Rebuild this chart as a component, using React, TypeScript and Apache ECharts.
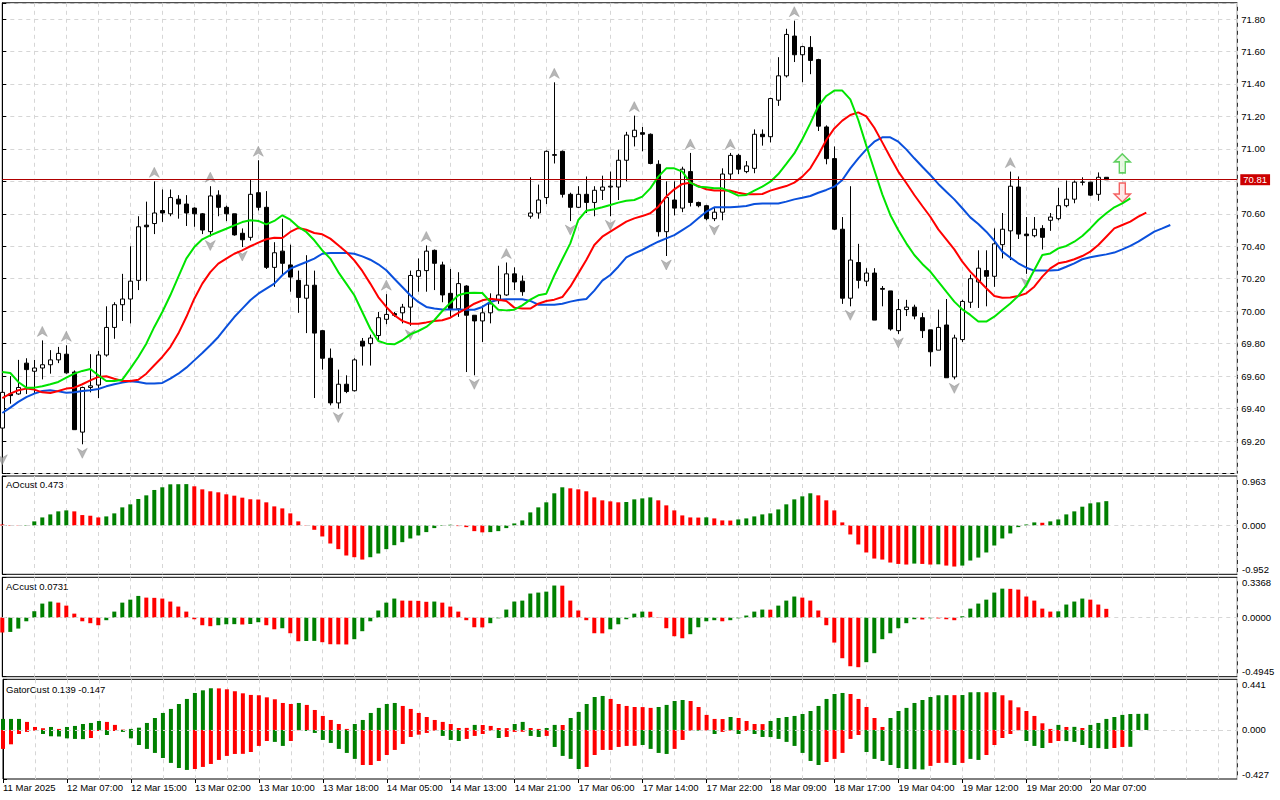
import React, { useEffect, useRef } from "react";
import * as echarts from "echarts";

// ---------- x axis tick labels (every 8 bars, starting at bar 0) ----------
const tickLabels = [
  "11 Mar 2025", "12 Mar 07:00", "12 Mar 15:00", "13 Mar 02:00", "13 Mar 10:00",
  "13 Mar 18:00", "14 Mar 05:00", "14 Mar 13:00", "14 Mar 21:00", "17 Mar 06:00",
  "17 Mar 14:00", "17 Mar 22:00", "18 Mar 09:00", "18 Mar 17:00", "19 Mar 04:00",
  "19 Mar 12:00", "19 Mar 20:00", "20 Mar 07:00",
];

// ---------- candles ----------
const opens = [
  69.28, 69.49, 69.49, 69.68, 69.63, 69.65, 69.67, 69.70, 69.735, 69.625,
  69.255, 69.53, 69.545, 69.73, 69.90, 70.04, 70.075, 70.19, 70.53, 70.54,
  70.62, 70.60, 70.69, 70.66, 70.635, 70.60, 70.49, 70.715, 70.64, 70.60,
  70.48, 70.455, 70.73, 70.64, 70.27, 70.37, 70.285, 70.19, 70.08, 70.16,
  69.88, 69.71, 69.435, 69.55, 69.51, 69.815, 69.80, 69.85, 69.95, 69.985,
  69.99, 70.025, 70.215, 70.25, 70.375, 70.285, 70.11, 70.015, 70.155, 69.975,
  69.94, 69.99, 70.065, 70.10, 70.23, 70.185, 70.585, 70.605, 70.70, 70.96,
  70.985, 70.72, 70.64, 70.72, 70.67, 70.745, 70.765, 70.765, 70.93, 71.075,
  71.10, 71.09, 70.905, 70.49, 70.685, 70.635, 70.86, 70.67, 70.65, 70.57,
  70.61, 70.845, 70.96, 70.86, 70.88, 71.09, 71.075, 71.30, 71.45, 71.695,
  71.58, 71.625, 71.55, 71.135, 70.94, 70.505, 70.08, 70.30, 70.185, 70.235,
  70.14, 70.125, 69.88, 70.01, 70.025, 69.96, 69.885, 69.76, 69.915, 69.595,
  69.825, 70.055, 70.18, 70.25, 70.215, 70.41, 70.495, 70.765, 70.475, 70.465,
  70.51, 70.56, 70.57, 70.65, 70.69, 70.794, 70.795, 70.72, 70.825,
];
const highs = [
  69.50, 69.60, 69.70, 69.71, 69.70, 69.82, 69.76, 69.78, 69.79, 69.635,
  69.535, 69.735, 69.755, 70.03, 70.055, 70.23, 70.40, 70.585, 70.675, 70.80,
  70.75, 70.75, 70.715, 70.715, 70.64, 70.605, 70.77, 70.745, 70.65, 70.60,
  70.51, 70.81, 70.93, 70.74, 70.425, 70.57, 70.41, 70.25, 70.345, 70.25,
  69.885, 69.77, 69.64, 69.605, 69.71, 69.835, 69.855, 69.995, 70.105, 69.995,
  70.045, 70.25, 70.325, 70.405, 70.38, 70.305, 70.26, 70.24, 70.16, 69.975,
  70.035, 70.11, 70.28, 70.30, 70.27, 70.22, 70.825, 70.78, 70.99, 71.41,
  70.99, 70.73, 70.77, 70.83, 70.77, 70.835, 70.86, 70.995, 71.105, 71.205,
  71.135, 71.095, 70.93, 70.80, 70.80, 70.89, 70.975, 70.675, 70.655, 70.635,
  70.88, 70.975, 70.97, 70.925, 71.12, 71.12, 71.315, 71.565, 71.74, 71.79,
  71.635, 71.695, 71.555, 71.145, 71.015, 70.58, 70.77, 70.415, 70.265, 70.265,
  70.155, 70.125, 70.075, 70.07, 70.04, 69.99, 69.885, 70.01, 70.075, 69.855,
  70.07, 70.225, 70.375, 70.375, 70.51, 70.605, 70.86, 70.83, 70.58, 70.58,
  70.53, 70.605, 70.76, 70.805, 70.805, 70.825, 70.797, 70.855, 70.825,
];
const lows = [
  69.14, 69.43, 69.485, 69.49, 69.49, 69.58, 69.615, 69.68, 69.615, 69.27,
  69.18, 69.50, 69.465, 69.72, 69.83, 69.94, 69.925, 70.13, 70.185, 70.475,
  70.55, 70.585, 70.57, 70.525, 70.52, 70.475, 70.46, 70.585, 70.555, 70.465,
  70.395, 70.435, 70.62, 70.26, 70.15, 70.225, 70.12, 69.99, 69.865, 69.465,
  69.64, 69.42, 69.40, 69.495, 69.505, 69.665, 69.665, 69.82, 69.92, 69.965,
  69.925, 69.91, 70.12, 70.12, 70.13, 70.055, 69.965, 69.965, 69.625, 69.605,
  69.81, 69.925, 70.045, 70.095, 70.13, 70.095, 70.57, 70.57, 70.66, 70.91,
  70.70, 70.555, 70.635, 70.605, 70.585, 70.685, 70.585, 70.685, 70.80, 71.015,
  70.985, 70.905, 70.46, 70.34, 70.59, 70.61, 70.645, 70.64, 70.56, 70.555,
  70.56, 70.81, 70.845, 70.85, 70.85, 71.02, 71.04, 71.265, 71.44, 71.535,
  71.41, 71.46, 71.11, 70.905, 70.50, 70.045, 70.03, 70.14, 70.155, 69.945,
  70.03, 69.88, 69.86, 69.97, 69.95, 69.835, 69.66, 69.76, 69.59, 69.58,
  69.81, 70.02, 70.02, 70.03, 70.15, 70.325, 70.315, 70.445, 70.23, 70.455,
  70.38, 70.495, 70.56, 70.64, 70.665, 70.775, 70.71, 70.68, 70.81,
];
const closes = [
  69.50, 69.48, 69.53, 69.64, 69.65, 69.67, 69.70, 69.74, 69.62, 69.27,
  69.53, 69.54, 69.73, 69.90, 70.04, 70.075, 70.185, 70.52, 70.52, 70.605,
  70.605, 70.70, 70.66, 70.605, 70.60, 70.50, 70.71, 70.64, 70.60, 70.47,
  70.44, 70.72, 70.64, 70.27, 70.36, 70.295, 70.21, 70.085, 70.16, 69.865,
  69.71, 69.435, 69.55, 69.505, 69.70, 69.785, 69.835, 69.96, 69.98, 69.975,
  70.025, 70.22, 70.25, 70.37, 70.295, 70.10, 70.015, 70.17, 69.975, 69.94,
  69.99, 70.045, 70.10, 70.23, 70.18, 70.12, 70.605, 70.685, 70.985, 70.965,
  70.72, 70.64, 70.72, 70.67, 70.745, 70.765, 70.77, 70.93, 71.085, 71.115,
  71.09, 70.91, 70.49, 70.70, 70.635, 70.875, 70.67, 70.65, 70.57, 70.61,
  70.845, 70.96, 70.875, 70.895, 71.09, 71.075, 71.31, 71.45, 71.705, 71.58,
  71.63, 71.545, 71.14, 70.94, 70.505, 70.08, 70.315, 70.19, 70.235, 69.945,
  70.135, 69.89, 70.01, 70.025, 69.97, 69.88, 69.75, 69.90, 69.59, 69.835,
  70.06, 70.20, 70.265, 70.215, 70.415, 70.505, 70.77, 70.475, 70.465, 70.505,
  70.455, 70.58, 70.65, 70.69, 70.795, 70.796, 70.715, 70.825, 70.81,
];
const lastPrice = 70.81;

// ---------- Alligator lines (read per bar, shifted forward) ----------
const jaw = [
  69.373, 69.406, 69.441, 69.471, 69.492, 69.508, 69.513, 69.506, 69.498, 69.500,
  69.508, 69.513, 69.521, 69.537, 69.550, 69.560, 69.568, 69.564, 69.554, 69.554,
  69.558, 69.584, 69.615, 69.652, 69.697, 69.743, 69.790, 69.841, 69.903, 69.964,
  70.016, 70.067, 70.108, 70.139, 70.170, 70.221, 70.262, 70.283, 70.303, 70.324,
  70.354, 70.359, 70.359, 70.359, 70.354, 70.338, 70.317, 70.289, 70.252, 70.200,
  70.149, 70.098, 70.057, 70.026, 70.016, 70.011, 70.011, 70.011, 70.009, 70.009,
  70.026, 70.057, 70.071, 70.073, 70.073, 70.073, 70.063, 70.040, 70.040, 70.040,
  70.046, 70.059, 70.069, 70.075, 70.127, 70.188, 70.223, 70.274, 70.332, 70.356,
  70.377, 70.404, 70.428, 70.449, 70.469, 70.500, 70.531, 70.572, 70.613, 70.640,
  70.640, 70.640, 70.644, 70.648, 70.660, 70.664, 70.664, 70.664, 70.675, 70.689,
  70.699, 70.710, 70.730, 70.747, 70.767, 70.808, 70.880, 70.942, 70.997, 71.044,
  71.071, 71.071, 71.044, 70.997, 70.942, 70.890, 70.839, 70.784, 70.736, 70.689,
  70.634, 70.578, 70.537, 70.490, 70.434, 70.367, 70.330, 70.295, 70.268, 70.250,
  70.250, 70.250, 70.254, 70.274, 70.295, 70.320, 70.332, 70.342, 70.350, 70.361,
  70.381, 70.402, 70.428, 70.459, 70.490, 70.510, 70.531,
];
const teeth = [
  69.465, 69.492, 69.513, 69.523, 69.517, 69.500, 69.496, 69.508, 69.523, 69.529,
  69.550, 69.574, 69.595, 69.599, 69.584, 69.570, 69.570, 69.578, 69.615, 69.667,
  69.718, 69.779, 69.862, 69.964, 70.077, 70.170, 70.241, 70.293, 70.324, 70.354,
  70.375, 70.400, 70.422, 70.443, 70.453, 70.451, 70.488, 70.513, 70.502, 70.482,
  70.474, 70.447, 70.406, 70.365, 70.313, 70.248, 70.170, 70.087, 70.026, 69.975,
  69.940, 69.923, 69.923, 69.931, 69.940, 69.944, 69.960, 69.989, 70.016, 70.046,
  70.067, 70.077, 70.071, 70.063, 70.022, 70.016, 70.016, 70.046, 70.063, 70.071,
  70.087, 70.151, 70.233, 70.315, 70.408, 70.459, 70.490, 70.521, 70.552, 70.572,
  70.586, 70.603, 70.644, 70.706, 70.751, 70.784, 70.792, 70.771, 70.751, 70.743,
  70.743, 70.743, 70.730, 70.720, 70.720, 70.722, 70.743, 70.757, 70.771, 70.792,
  70.829, 70.880, 70.962, 71.055, 71.126, 71.174, 71.209, 71.225, 71.200, 71.130,
  71.040, 70.948, 70.860, 70.790, 70.716, 70.648, 70.582, 70.504, 70.443, 70.381,
  70.305, 70.244, 70.192, 70.141, 70.094, 70.083, 70.085, 70.094, 70.110, 70.151,
  70.213, 70.264, 70.295, 70.305, 70.320, 70.340, 70.367, 70.408, 70.459, 70.510,
  70.531, 70.552, 70.582, 70.607,
];
const lips = [
  69.625, 69.619, 69.564, 69.529, 69.529, 69.537, 69.550, 69.564, 69.591, 69.615,
  69.632, 69.644, 69.605, 69.570, 69.570, 69.578, 69.646, 69.718, 69.800, 69.903,
  69.995, 70.098, 70.211, 70.324, 70.395, 70.443, 70.467, 70.488, 70.508, 70.529,
  70.549, 70.560, 70.556, 70.535, 70.556, 70.591, 70.564, 70.519, 70.488, 70.437,
  70.375, 70.324, 70.241, 70.170, 70.098, 69.995, 69.892, 69.816, 69.800, 69.796,
  69.821, 69.857, 69.878, 69.903, 69.944, 70.001, 70.051, 70.098, 70.112, 70.114,
  70.112, 70.057, 70.009, 70.005, 70.009, 70.036, 70.071, 70.098, 70.108, 70.220,
  70.320, 70.418, 70.562, 70.619, 70.628, 70.640, 70.654, 70.669, 70.681, 70.685,
  70.706, 70.757, 70.829, 70.880, 70.880, 70.860, 70.792, 70.767, 70.763, 70.757,
  70.757, 70.736, 70.712, 70.716, 70.743, 70.767, 70.798, 70.845, 70.907, 70.972,
  71.059, 71.157, 71.264, 71.326, 71.359, 71.359, 71.305, 71.178, 71.020, 70.870,
  70.720, 70.593, 70.500, 70.418, 70.346, 70.291, 70.244, 70.182, 70.120, 70.059,
  70.011, 69.977, 69.936, 69.936, 69.966, 70.007, 70.048, 70.094, 70.161, 70.254,
  70.346, 70.356, 70.387, 70.402, 70.428, 70.463, 70.510, 70.562, 70.603, 70.640,
  70.664, 70.695,
];

// ---------- fractals (bar indices) ----------
const fractalUpBars = [5, 8, 19, 26, 32, 48, 53, 63, 69, 79, 86, 91, 99, 126];
const fractalDownBars = [0, 10, 26, 30, 42, 51, 59, 71, 76, 83, 89, 106, 112, 119, 128];

// ---------- signal arrows ----------
const signalBar = 140;
const signalUpPrice = 70.911;
const signalDownPrice = 70.731;

// ---------- AO ----------
const aoTitle = "AOcust 0.473";
const aoRange = [-0.952, 0.963];
const ao = [
  0.018, 0.009, 0.005, 0.009, 0.079, 0.156, 0.215, 0.274, 0.293, 0.274,
  0.202, 0.189, 0.156, 0.176, 0.235, 0.352, 0.411, 0.515, 0.586, 0.691,
  0.743, 0.801, 0.803, 0.805, 0.762, 0.703, 0.665, 0.645, 0.606, 0.580,
  0.541, 0.510, 0.505, 0.450, 0.371, 0.332, 0.235, 0.079, 0.006, -0.085,
  -0.215, -0.352, -0.462, -0.586, -0.619, -0.665, -0.619, -0.547, -0.462, -0.385,
  -0.326, -0.254, -0.195, -0.130, -0.052, -0.010, 0.013, -0.013, -0.033, -0.111,
  -0.135, -0.130, -0.111, -0.052, 0.039, 0.098, 0.254, 0.352, 0.450, 0.626,
  0.743, 0.723, 0.703, 0.665, 0.547, 0.489, 0.469, 0.450, 0.456, 0.508,
  0.527, 0.547, 0.489, 0.391, 0.293, 0.195, 0.156, 0.153, 0.158, 0.137,
  0.098, 0.095, 0.117, 0.137, 0.176, 0.215, 0.235, 0.312, 0.411, 0.508,
  0.567, 0.626, 0.586, 0.489, 0.293, 0.059, -0.176, -0.371, -0.527, -0.645,
  -0.665, -0.723, -0.750, -0.762, -0.743, -0.750, -0.762, -0.758, -0.782, -0.801,
  -0.782, -0.684, -0.626, -0.527, -0.391, -0.254, -0.156, -0.033, 0.018, 0.059,
  0.052, 0.079, 0.117, 0.215, 0.274, 0.365, 0.430, 0.450, 0.473,
];
const aoDir =
  "rrrggggggr" + "rrrggggggg" + "ggggrrrrrr" + "rrrrrrrrrr" + "rrrrrrgggg" +
  "gggggggrrr" + "rggggggggg" + "grrrrrrrgg" + "ggrrrrrrgr" + "rrgggggggg" +
  "ggrrrrrrrr" + "rrrrgrrgrr" + "gggggggggg" + "rgggggggg";

// ---------- AC ----------
const acTitle = "ACcust 0.0731";
const acRange = [-0.4945, 0.3368];
const ac = [
  -0.125, -0.120, -0.092, -0.031, 0.053, 0.117, 0.134, 0.125, 0.100, 0.033,
  -0.031, -0.047, -0.064, -0.022, 0.050, 0.125, 0.150, 0.181, 0.167, 0.165,
  0.159, 0.134, 0.092, 0.050, -0.014, -0.064, -0.072, -0.064, -0.056, -0.055,
  -0.058, -0.054, -0.039, -0.064, -0.098, -0.089, -0.131, -0.198, -0.196, -0.195,
  -0.206, -0.223, -0.224, -0.225, -0.181, -0.114, -0.031, 0.059, 0.125, 0.159,
  0.142, 0.141, 0.140, 0.132, 0.134, 0.125, 0.092, 0.050, -0.022, -0.081,
  -0.082, -0.047, -0.006, 0.067, 0.134, 0.142, 0.201, 0.209, 0.217, 0.268,
  0.267, 0.142, 0.059, -0.022, -0.131, -0.132, -0.098, -0.056, -0.014, 0.033,
  0.050, 0.049, -0.003, -0.089, -0.156, -0.173, -0.139, -0.081, -0.031, -0.022,
  -0.031, -0.022, -0.006, 0.017, 0.050, 0.067, 0.066, 0.100, 0.142, 0.176,
  0.167, 0.142, 0.059, -0.064, -0.209, -0.340, -0.407, -0.415, -0.373, -0.298,
  -0.181, -0.131, -0.089, -0.047, -0.014, -0.016, -0.006, -0.007, -0.014, -0.022,
  0.011, 0.075, 0.117, 0.150, 0.209, 0.242, 0.240, 0.234, 0.176, 0.142,
  0.075, 0.050, 0.052, 0.109, 0.134, 0.159, 0.150, 0.109, 0.073,
];
const acDir =
  "rggggggrrr" + "rrrgggggrr" + "rrrrrrrggg" + "rggrrgrrgg" + "rrrrgggggg" +
  "rrrrgrrrrr" + "rggggggggg" + "rrrrrrgggg" + "grrrrrgggg" + "rgggggrggg" +
  "rrrrrrrrgg" + "gggggrgrrr" + "ggggggrrrr" + "rrggggrrr";

// ---------- Gator ----------
const gatorTitle = "GatorCust 0.139 -0.147";
const gatorRange = [-0.427, 0.441];
const gatorUp = [
  0.096, 0.096, 0.096, 0.070, 0.026, 0.015, 0.026, 0.009, 0.026, 0.035,
  0.052, 0.061, 0.078, 0.070, 0.044, 0.003, 0.009, 0.020, 0.061, 0.104,
  0.148, 0.183, 0.226, 0.270, 0.322, 0.345, 0.363, 0.362, 0.354, 0.337,
  0.319, 0.305, 0.302, 0.284, 0.267, 0.235, 0.226, 0.235, 0.218, 0.174,
  0.122, 0.087, 0.052, 0.009, 0.052, 0.087, 0.148, 0.192, 0.226, 0.235,
  0.209, 0.183, 0.148, 0.113, 0.087, 0.070, 0.052, 0.017, 0.018, 0.044,
  0.043, 0.035, 0.017, 0.016, 0.052, 0.070, 0.017, 0.009, 0.017, 0.044,
  0.043, 0.104, 0.157, 0.226, 0.287, 0.296, 0.270, 0.226, 0.209, 0.200,
  0.199, 0.192, 0.200, 0.218, 0.252, 0.261, 0.252, 0.200, 0.131, 0.096,
  0.095, 0.113, 0.104, 0.078, 0.052, 0.051, 0.078, 0.104, 0.113, 0.122,
  0.139, 0.165, 0.209, 0.270, 0.313, 0.322, 0.313, 0.270, 0.200, 0.104,
  0.026, 0.104, 0.165, 0.192, 0.235, 0.261, 0.287, 0.302, 0.303, 0.303,
  0.304, 0.328, 0.329, 0.328, 0.329, 0.302, 0.258, 0.197, 0.165, 0.122,
  0.058, 0.009, 0.044, 0.026, 0.027, 0.017, 0.044, 0.061, 0.096, 0.113,
  0.131, 0.139, 0.140, 0.141,
];
const gatorUpDir =
  "gggrrrgrgg" + "gggrrrgggg" + "gggggggrrr" + "rrrrrrrgrr" + "rrrrgggggg" +
  "rrrrrrrrrg" + "rrrrggrrgg" + "rgggggrrrr" + "rrggggrrrr" + "rgrrrrgggg" +
  "ggggggrrrr" + "rggggggggr" + "gggrgrrrrr" + "rrgrgrgggg" + "gggg";
const gatorDown = [
  -0.165, -0.125, -0.035, -0.017, -0.006, -0.035, -0.055, -0.057, -0.073, -0.078,
  -0.080, -0.070, -0.009, -0.044, -0.009, -0.017, -0.073, -0.131, -0.165, -0.200,
  -0.244, -0.287, -0.331, -0.348, -0.340, -0.322, -0.296, -0.261, -0.226, -0.209,
  -0.208, -0.192, -0.139, -0.096, -0.104, -0.139, -0.096, -0.003, -0.009, -0.026,
  -0.087, -0.113, -0.165, -0.200, -0.252, -0.305, -0.305, -0.270, -0.218, -0.174,
  -0.122, -0.061, -0.041, -0.026, -0.006, -0.052, -0.087, -0.096, -0.078, -0.052,
  -0.035, -0.006, -0.070, -0.061, -0.017, -0.016, -0.052, -0.061, -0.052, -0.148,
  -0.226, -0.252, -0.340, -0.322, -0.218, -0.174, -0.174, -0.148, -0.139, -0.138,
  -0.131, -0.165, -0.200, -0.209, -0.165, -0.087, -0.006, -0.006, -0.004, -0.035,
  -0.017, -0.006, -0.035, -0.009, -0.035, -0.061, -0.062, -0.078, -0.104, -0.139,
  -0.200, -0.270, -0.305, -0.279, -0.252, -0.200, -0.078, -0.044, -0.192, -0.252,
  -0.270, -0.305, -0.331, -0.340, -0.342, -0.344, -0.313, -0.287, -0.286, -0.305,
  -0.287, -0.252, -0.261, -0.218, -0.131, -0.070, -0.035, -0.003, -0.096, -0.139,
  -0.157, -0.113, -0.096, -0.097, -0.104, -0.131, -0.157, -0.158, -0.165, -0.157,
  -0.148, -0.147,
];
const gatorDownDir =
  "rrrrrggggg" + "grrgrggggg" + "ggggrrrrrr" + "rrrrggrrgg" + "gggggrrrrr" +
  "rrrrrgggrr" + "rrgrrrggrg" + "gggrrrrrrr" + "ggggrrrgrg" + "rrgrgggggg" +
  "gggrrrrrgg" + "ggggggrrrg" + "rggrrrrrgg" + "grrggggggr" + "rg";

// ---------- styling / layout ----------
const FONT = '"Liberation Sans", Arial, sans-serif';
const GRID_C = "#d6d6d6";
const BAR_GREEN = "#008000";
const BAR_RED = "#ff0000";
const JAW_C = "#0a50dc";
const TEETH_C = "#ff0000";
const LIPS_C = "#00e400";
const LEFT = 2.3;
const PLOT_W = 1235;
const STEP = 8;
const XMAX = PLOT_W / STEP;
const LABEL_X = 1242;

const panelBoxes = [
  { top: 2.8, height: 470.7 },
  { top: 476, height: 98.3 },
  { top: 577.3, height: 99.4 },
  { top: 679.3, height: 99.7 },
];

const labelTickValues = tickLabels.map((_, k) => k * 8);

function dirColor(dir: string, i: number): string {
  return dir.charAt(i) === "g" ? BAR_GREEN : BAR_RED;
}

function zeroY(box: { top: number; height: number }, range: number[]): number {
  return box.top + (range[1] / (range[1] - range[0])) * box.height;
}

const dashed = { color: GRID_C, type: [4, 4] as number[], width: 1 };

export default function App() {
  const ref = useRef<HTMLDivElement>(null);

  useEffect(() => {
    if (!ref.current) return;
    const chart = echarts.init(ref.current, null, { renderer: "svg" });

    const grids = panelBoxes.map((b) => ({
      left: LEFT,
      width: PLOT_W,
      top: b.top,
      height: b.height,
      show: true,
      borderColor: "#000",
      borderWidth: 1,
      backgroundColor: "#fff",
    }));

    const splitXAxes = panelBoxes.map((_, gi) => ({
      type: "value",
      gridIndex: gi,
      min: 0,
      max: XMAX,
      interval: 4,
      axisLine: { show: false },
      axisTick: { show: false },
      axisLabel: { show: false },
      splitLine: { show: true, lineStyle: dashed },
    }));

    const labelXAxis = {
      type: "value",
      gridIndex: 3,
      position: "bottom",
      min: 0,
      max: XMAX,
      interval: 8,
      axisLine: { show: false },
      axisTick: {
        show: true,
        length: 4,
        customValues: labelTickValues,
        lineStyle: { color: "#000", width: 1 },
      },
      splitLine: { show: false },
      axisLabel: {
        show: true,
        customValues: labelTickValues,
        align: "left",
        margin: 3,
        fontSize: 9.5,
        fontFamily: FONT,
        color: "#000",
        formatter: (v: number) => {
          const r = Math.round(v);
          if (Math.abs(v - r) > 1e-6 || r % 8 !== 0) return "";
          return tickLabels[r / 8] || "";
        },
      },
    };

    const subY = (gi: number, range: number[]) => ({
      type: "value",
      gridIndex: gi,
      position: "right",
      min: range[0],
      max: range[1],
      axisLine: { show: true, lineStyle: { color: "#000" } },
      axisTick: { show: true, length: 4, customValues: [range[0], 0, range[1]], lineStyle: { color: "#000" } },
      axisLabel: { show: false },
      splitLine: { show: false },
    });

    const yAxes = [
      {
        type: "value",
        gridIndex: 0,
        position: "right",
        min: 69.0,
        max: 71.9,
        interval: 0.2,
        axisLine: { show: true, lineStyle: { color: "#000" } },
        axisTick: { show: true, length: 4, lineStyle: { color: "#000" } },
        axisLabel: {
          margin: 4,
          fontSize: 9.5,
          fontFamily: FONT,
          color: "#000",
          formatter: (v: number) => {
            if (v < 69.1 || v > 71.85) return "";
            if (Math.abs(v - 70.8) < 1e-6) return "";
            return v.toFixed(2);
          },
        },
        splitLine: { show: true, lineStyle: dashed },
      },
      subY(1, aoRange),
      subY(2, acRange),
      subY(3, gatorRange),
    ];

    const zeroMark = {
      silent: true,
      symbol: ["none", "none"],
      label: { show: false },
      lineStyle: dashed,
      data: [{ yAxis: 0 }],
    };

    const candleData = opens.map((o, i) => [i, o, closes[i], lows[i], highs[i]]);

    const series: any[] = [
      {
        type: "candlestick",
        xAxisIndex: 0,
        yAxisIndex: 0,
        data: candleData,
        barWidth: 5,
        itemStyle: {
          color: "#ffffff",
          color0: "#000000",
          borderColor: "#000000",
          borderColor0: "#000000",
          borderColorDoji: "#000000",
          borderWidth: 1,
        },
        markLine: {
          silent: true,
          symbol: ["none", "none"],
          data: [{ yAxis: lastPrice }],
          lineStyle: { color: "#b00000", width: 1, type: "solid" },
          label: {
            show: true,
            position: "end",
            distance: 3,
            formatter: lastPrice.toFixed(2),
            color: "#ffffff",
            backgroundColor: "#cc0000",
            padding: [1, 3, 0, 3],
            fontSize: 9.5,
            fontFamily: FONT,
          },
        },
      },
      {
        type: "line",
        xAxisIndex: 0,
        yAxisIndex: 0,
        data: jaw.map((v, i) => [i, v]),
        symbol: "none",
        lineStyle: { color: JAW_C, width: 2 },
        itemStyle: { color: JAW_C },
      },
      {
        type: "line",
        xAxisIndex: 0,
        yAxisIndex: 0,
        data: teeth.map((v, i) => [i, v]),
        symbol: "none",
        lineStyle: { color: TEETH_C, width: 2 },
        itemStyle: { color: TEETH_C },
      },
      {
        type: "line",
        xAxisIndex: 0,
        yAxisIndex: 0,
        data: lips.map((v, i) => [i, v]),
        symbol: "none",
        lineStyle: { color: LIPS_C, width: 2 },
        itemStyle: { color: LIPS_C },
      },
      {
        type: "scatter",
        xAxisIndex: 0,
        yAxisIndex: 0,
        data: fractalUpBars.map((b) => [b, highs[b]]),
        symbol: "path://M5,0L10,10L5,7L0,10Z",
        symbolSize: [10, 10],
        symbolOffset: [0, -9],
        itemStyle: { color: "#a4a4a4", borderColor: "#8a8a8a", borderWidth: 0.5 },
      },
      {
        type: "scatter",
        xAxisIndex: 0,
        yAxisIndex: 0,
        data: fractalDownBars.map((b) => [b, lows[b]]),
        symbol: "path://M0,0L5,3L10,0L5,10Z",
        symbolSize: [10, 10],
        symbolOffset: [0, 9],
        itemStyle: { color: "#a4a4a4", borderColor: "#8a8a8a", borderWidth: 0.5 },
      },
      {
        type: "scatter",
        xAxisIndex: 0,
        yAxisIndex: 0,
        data: [[signalBar, signalUpPrice]],
        symbol: "path://M8,0L16,8L11,8L11,19L5,19L5,8L0,8Z",
        symbolSize: [16, 19],
        itemStyle: { color: "#e4f8dc", borderColor: "#3cc43c", borderWidth: 1.5 },
      },
      {
        type: "scatter",
        xAxisIndex: 0,
        yAxisIndex: 0,
        data: [[signalBar, signalDownPrice]],
        symbol: "path://M5,0L11,0L11,11L16,11L8,19L0,11L5,11Z",
        symbolSize: [16, 19],
        itemStyle: { color: "#ffe2e2", borderColor: "#f03c3c", borderWidth: 1.5 },
      },
      {
        type: "bar",
        xAxisIndex: 1,
        yAxisIndex: 1,
        barWidth: 4,
        data: ao.map((v, i) => ({ value: [i, v], itemStyle: { color: dirColor(aoDir, i) } })),
        markLine: zeroMark,
      },
      {
        type: "bar",
        xAxisIndex: 2,
        yAxisIndex: 2,
        barWidth: 4,
        data: ac.map((v, i) => ({ value: [i, v], itemStyle: { color: dirColor(acDir, i) } })),
        markLine: zeroMark,
      },
      {
        type: "bar",
        xAxisIndex: 3,
        yAxisIndex: 3,
        barWidth: 4,
        stack: "gator",
        data: gatorUp.map((v, i) => ({ value: [i, v], itemStyle: { color: dirColor(gatorUpDir, i) } })),
        markLine: zeroMark,
      },
      {
        type: "bar",
        xAxisIndex: 3,
        yAxisIndex: 3,
        barWidth: 4,
        stack: "gator",
        data: gatorDown.map((v, i) => ({ value: [i, v], itemStyle: { color: dirColor(gatorDownDir, i) } })),
      },
    ];

    const txt = (x: number, y: number, text: string) => ({
      type: "text",
      x,
      y,
      silent: true,
      style: { text, fill: "#000", font: `9.5px ${FONT}`, align: "left", verticalAlign: "middle" },
    });

    const subLabels = [
      { box: panelBoxes[1], range: aoRange, digits: 3 },
      { box: panelBoxes[2], range: acRange, digits: 4 },
      { box: panelBoxes[3], range: gatorRange, digits: 3 },
    ];
    const graphics: any[] = [
      txt(6, panelBoxes[1].top + 8.5, aoTitle),
      txt(6, panelBoxes[2].top + 9.2, acTitle),
      txt(6, panelBoxes[3].top + 9.7, gatorTitle),
    ];
    subLabels.forEach((s) => {
      graphics.push(txt(LABEL_X, s.box.top + 5, s.range[1].toFixed(s.digits)));
      graphics.push(txt(LABEL_X, zeroY(s.box, s.range), (0).toFixed(s.digits)));
      graphics.push(txt(LABEL_X, s.box.top + s.box.height - 5, s.range[0].toFixed(s.digits)));
    });

    chart.setOption({
      animation: false,
      backgroundColor: "#ffffff",
      textStyle: { fontFamily: FONT },
      grid: grids,
      xAxis: [...splitXAxes, labelXAxis],
      yAxis: yAxes,
      series,
      graphic: graphics,
    } as any);

    return () => chart.dispose();
  }, []);

  return (
    <div
      ref={ref}
      style={{ position: "fixed", left: 0, top: 0, width: 1280, height: 800, background: "#fff" }}
    />
  );
}
